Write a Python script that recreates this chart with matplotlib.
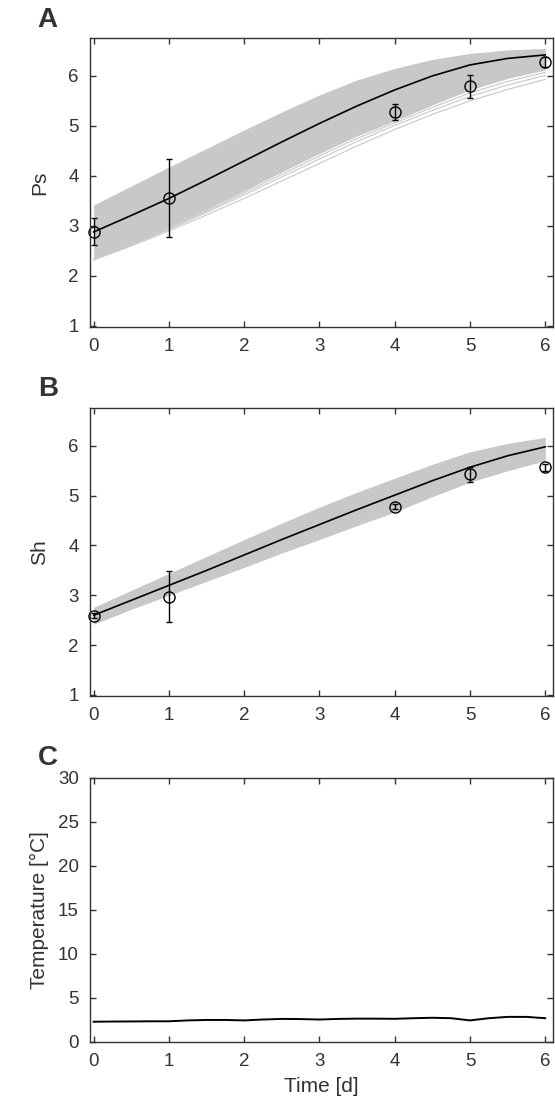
import matplotlib
matplotlib.use('Agg')
import matplotlib.pyplot as plt
import numpy as np

plt.rcParams['font.family'] = ['Liberation Sans', 'DejaVu Sans']

# model time grid (days)
t_model = [0, 0.5, 1, 1.5, 2, 2.5, 3, 3.5, 4, 4.5, 5, 5.5, 6]

# panel A: Ps
ps_obs_t = [0, 1, 4, 5, 6]
ps_obs = [2.88, 3.56, 5.27, 5.79, 6.28]
ps_err = [0.27, 0.78, 0.16, 0.23, 0.10]
ps_fit = [2.88, 3.21, 3.55, 3.92, 4.30, 4.68, 5.05, 5.40, 5.72, 6.00, 6.22, 6.35, 6.42]
ps_upper = [3.42, 3.80, 4.18, 4.55, 4.92, 5.28, 5.62, 5.92, 6.15, 6.33, 6.45, 6.52, 6.55]
ps_lower = [2.35, 2.65, 2.97, 3.33, 3.70, 4.08, 4.45, 4.80, 5.10, 5.42, 5.72, 5.95, 6.12]
# a few sample runs that drift below the main band
ps_runs = [
    [2.32, 2.60, 2.90, 3.22, 3.55, 3.90, 4.25, 4.60, 4.93, 5.23, 5.50, 5.73, 5.93],
    [2.33, 2.62, 2.93, 3.27, 3.62, 3.98, 4.34, 4.69, 5.01, 5.31, 5.59, 5.82, 6.01],
    [2.34, 2.63, 2.95, 3.30, 3.66, 4.03, 4.40, 4.75, 5.06, 5.37, 5.66, 5.89, 6.07],
]

# panel B: Sh
sh_obs_t = [0, 1, 4, 5, 6]
sh_obs = [2.59, 2.97, 4.78, 5.43, 5.57]
sh_err = [0.05, 0.51, 0.05, 0.15, 0.07]
sh_fit = [2.60, 2.90, 3.20, 3.50, 3.81, 4.12, 4.42, 4.72, 5.01, 5.30, 5.57, 5.80, 5.98]
sh_upper = [2.76, 3.10, 3.44, 3.78, 4.12, 4.45, 4.77, 5.07, 5.35, 5.63, 5.88, 6.05, 6.17]
sh_lower = [2.42, 2.72, 3.00, 3.28, 3.56, 3.85, 4.12, 4.40, 4.67, 4.98, 5.27, 5.50, 5.70]

# panel C: temperature
temp_t = [0, 0.25, 0.5, 0.75, 1, 1.25, 1.5, 1.75, 2, 2.25, 2.5, 2.75, 3,
          3.25, 3.5, 3.75, 4, 4.25, 4.5, 4.75, 5, 5.25, 5.5, 5.75, 6]
temp = [2.30, 2.32, 2.33, 2.35, 2.35, 2.45, 2.50, 2.50, 2.45, 2.55, 2.62, 2.60, 2.55,
        2.62, 2.65, 2.65, 2.63, 2.70, 2.75, 2.70, 2.45, 2.70, 2.85, 2.85, 2.70]

BAND = '#c8c8ca'
TXT = '#333333'

fig = plt.figure(figsize=(5.55, 10.99), dpi=100)
left, width = 0.162, 0.834
axA = fig.add_axes([left, 0.7025, width, 0.263])
axB = fig.add_axes([left, 0.3667, width, 0.2621])
axC = fig.add_axes([left, 0.0519, width, 0.2402])


def style(ax):
    ax.tick_params(direction='in', length=4, width=1, top=True, right=True,
                   labelsize=13.5, labelcolor=TXT, color=TXT, pad=8)
    for s in ax.spines.values():
        s.set_color(TXT)
        s.set_linewidth(1)
    ax.set_xlim(-0.05, 6.1)
    ax.set_xticks(range(0, 7))


def growth_panel(ax, upper, lower, runs, fit, ot, obs, err, ylabel):
    ax.fill_between(t_model, lower, upper, color=BAND, lw=0)
    for r in runs:
        ax.plot(t_model, r, color=BAND, lw=0.8)
    ax.plot(t_model, fit, color='black', lw=1.2)
    ax.errorbar(ot, obs, yerr=err, fmt='o', mfc='none', mec='black', ms=8,
                mew=1, ecolor='black', elinewidth=1, capsize=2.3, capthick=1, clip_on=False)
    ax.set_ylim(0.98, 6.76)
    ax.set_yticks(range(1, 7))
    ax.set_ylabel(ylabel, fontsize=15, color=TXT, labelpad=14)
    style(ax)


growth_panel(axA, ps_upper, ps_lower, ps_runs, ps_fit, ps_obs_t, ps_obs, ps_err, 'Ps')
growth_panel(axB, sh_upper, sh_lower, [], sh_fit, sh_obs_t, sh_obs, sh_err, 'Sh')

axC.plot(temp_t, temp, color='black', lw=1.4)
axC.set_ylim(0, 30)
axC.set_yticks(range(0, 31, 5))
axC.set_ylabel('Temperature [°C]', fontsize=15, color=TXT, labelpad=6)
axC.set_xlabel('Time [d]', fontsize=15, color=TXT, labelpad=5)
style(axC)

for lab, y in [('A', 0.982), ('B', 0.646), ('C', 0.310)]:
    fig.text(0.068, y, lab, fontsize=20, fontweight='bold', color=TXT, va='center')

fig.savefig('out.png', dpi=100)
